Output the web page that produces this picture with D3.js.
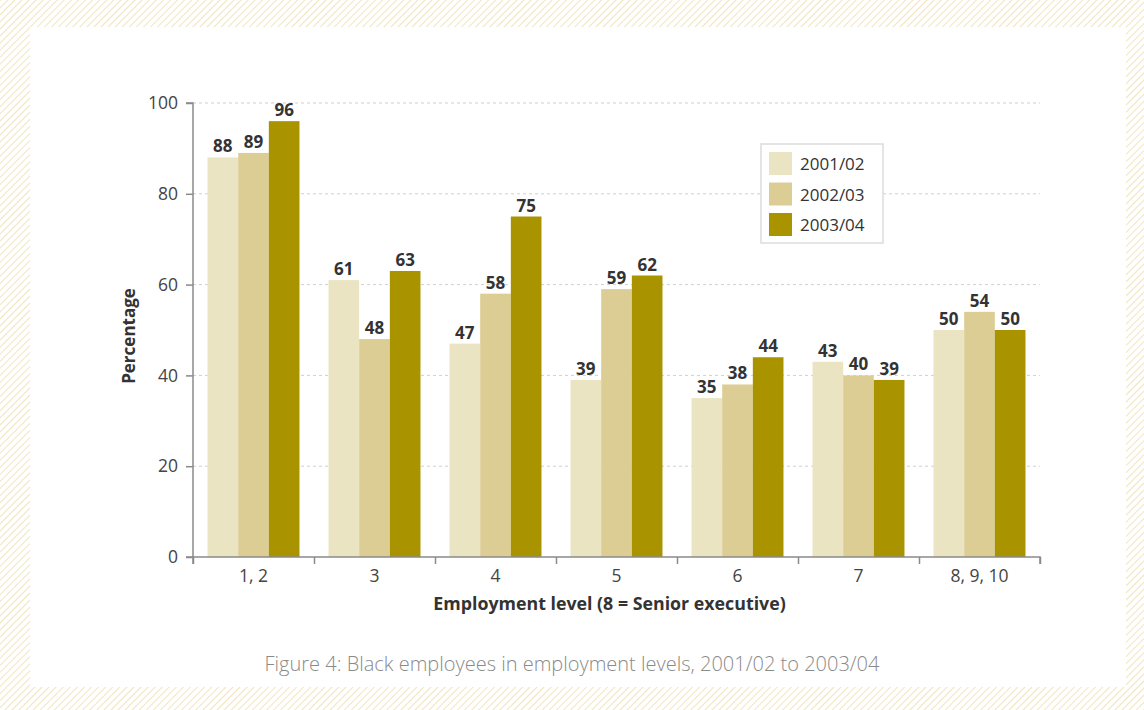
<!DOCTYPE html>
<html>
<head>
<meta charset="utf-8">
<script src="https://cdn.jsdelivr.net/npm/d3@7"></script>
<style>
  body { margin: 0; background: #fff; }
  svg { display: block; font-family: "Open Sans", sans-serif; }
</style>
</head>
<body>
<div id="chart"></div>
<script>
// data
var levels = ["1, 2", "3", "4", "5", "6", "7", "8, 9, 10"];
var years = ["2001/02", "2002/03", "2003/04"];
var v0102 = [88, 61, 47, 39, 35, 43, 50];
var v0203 = [89, 48, 58, 59, 38, 40, 54];
var v0304 = [96, 63, 75, 62, 44, 39, 50];
var yTicks = [0, 20, 40, 60, 80, 100];
var colours = ["#ebe4c3", "#dccd95", "#a99400"];

var W = 1144, H = 710;
var margin = {top: 103, right: 104, bottom: 153, left: 193},
    width = W - margin.left - margin.right,
    height = H - margin.top - margin.bottom;

var svg = d3.select("#chart").append("svg")
    .attr("width", W)
    .attr("height", H);

// hatched frame
var defs = svg.append("defs");
defs.append("pattern")
    .attr("id", "hatch")
    .attr("patternUnits", "userSpaceOnUse")
    .attr("width", 5).attr("height", 5)
    .attr("patternTransform", "rotate(45)")
  .append("line")
    .attr("x1", 0).attr("y1", 0).attr("x2", 0).attr("y2", 5)
    .attr("stroke", "#ecdba8").attr("stroke-width", 1.5);

svg.append("rect").attr("width", W).attr("height", H).attr("fill", "url(#hatch)");
svg.append("rect")
    .attr("x", 30).attr("y", 27)
    .attr("width", 1096).attr("height", 660)
    .attr("fill", "#fff");

var g = svg.append("g")
    .attr("transform", "translate(" + margin.left + "," + margin.top + ")");

var x0 = d3.scaleBand().domain(levels).range([0, width]).paddingInner(0.24).paddingOuter(0.12);
var x1 = d3.scaleBand().domain(years).range([0, x0.bandwidth()]);
var y = d3.scaleLinear().domain([0, 100]).range([height, 0]);

// grid
g.selectAll(".grid")
    .data(yTicks.slice(1))
  .enter().append("line")
    .attr("x1", 0).attr("x2", width)
    .attr("y1", function(d) { return y(d); })
    .attr("y2", function(d) { return y(d); })
    .attr("stroke", "#cfcfcf")
    .attr("stroke-dasharray", "3,3");

var rows = levels.map(function(l, i) {
  return {level: l, vals: [v0102[i], v0203[i], v0304[i]]};
});

var groups = g.selectAll(".grp")
    .data(rows)
  .enter().append("g")
    .attr("transform", function(d) { return "translate(" + x0(d.level) + ",0)"; });

groups.selectAll("rect")
    .data(function(d) { return d.vals.map(function(v, j) { return {year: years[j], v: v, j: j}; }); })
  .enter().append("rect")
    .attr("x", function(d) { return x1(d.year); })
    .attr("y", function(d) { return y(d.v); })
    .attr("width", x1.bandwidth())
    .attr("height", function(d) { return height - y(d.v); })
    .attr("fill", function(d) { return colours[d.j]; });

groups.selectAll(".lbl")
    .data(function(d) { return d.vals.map(function(v, j) { return {year: years[j], v: v}; }); })
  .enter().append("text")
    .attr("x", function(d) { return x1(d.year) + x1.bandwidth() / 2; })
    .attr("y", function(d) { return y(d.v) - 5; })
    .attr("text-anchor", "middle")
    .attr("font-size", 17)
    .attr("font-weight", "bold")
    .attr("fill", "#333")
    .text(function(d) { return d.v; });

// axes
var yAxis = g.append("g")
    .call(d3.axisLeft(y).tickValues(yTicks).tickSize(7).tickPadding(8));
var xAxis = g.append("g")
    .attr("transform", "translate(0," + height + ")")
    .call(d3.axisBottom(d3.scaleLinear().domain([0, 7]).range([0, width]))
      .tickValues(d3.range(8)).tickSize(7).tickFormat(""));
g.append("g")
    .attr("transform", "translate(0," + height + ")")
  .selectAll("text")
    .data(levels)
  .enter().append("text")
    .attr("x", function(d) { return x0(d) + x0.bandwidth() / 2; })
    .attr("y", 25)
    .attr("text-anchor", "middle")
    .attr("font-size", 17.5)
    .attr("fill", "#444")
    .text(function(d) { return d; });

[yAxis, xAxis].forEach(function(a) {
  a.select(".domain").attr("stroke", "#8a8a8a").attr("stroke-width", 1.5);
  a.selectAll(".tick line").attr("stroke", "#8a8a8a").attr("stroke-width", 1.5);
  a.selectAll(".tick text").attr("font-size", 17.5).attr("fill", "#444").attr("font-family", "Open Sans, sans-serif");
});
xAxis.select(".domain").attr("d", "M0,7V0H" + width + "V7");
yAxis.select(".domain").attr("d", "M-7,0H0V" + height + "H-7");

// axis titles
g.append("text")
    .attr("transform", "rotate(-90)")
    .attr("x", -233)
    .attr("y", -58)
    .attr("text-anchor", "middle")
    .attr("font-size", 17)
    .attr("font-weight", "bold")
    .attr("fill", "#333")
    .text("Percentage");

g.append("text")
    .attr("x", width / 2 - 7)
    .attr("y", height + 53)
    .attr("text-anchor", "middle")
    .attr("font-size", 17.8)
    .attr("font-weight", "bold")
    .attr("fill", "#333")
    .text("Employment level (8 = Senior executive)");

// caption
svg.append("text")
    .attr("x", 572)
    .attr("y", 671)
    .attr("text-anchor", "middle")
    .attr("font-size", 20)
    .attr("font-weight", 300)
    .attr("fill", "#8a8a8a")
    .text("Figure 4: Black employees in employment levels, 2001/02 to 2003/04");

// legend
var legend = svg.append("g").attr("transform", "translate(761,144)");
legend.append("rect")
    .attr("width", 122).attr("height", 99)
    .attr("fill", "#fff")
    .attr("stroke", "#dcdcdc").attr("stroke-width", 1.5);
var item = legend.selectAll(".item")
    .data(years)
  .enter().append("g")
    .attr("transform", function(d, i) { return "translate(8," + (8 + i * 30.5) + ")"; });
item.append("rect")
    .attr("width", 23).attr("height", 23)
    .attr("fill", function(d, i) { return colours[i]; });
item.append("text")
    .attr("x", 31).attr("y", 18)
    .attr("font-size", 17)
    .attr("fill", "#333")
    .text(function(d) { return d; });
</script>
</body>
</html>
